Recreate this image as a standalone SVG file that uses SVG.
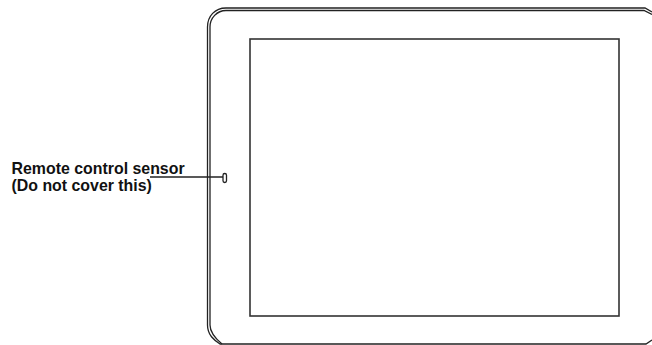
<svg xmlns="http://www.w3.org/2000/svg" width="652" height="345" viewBox="0 0 652 345">
<style>
.l{fill:none;stroke:#222;stroke-width:1.300}
.s{fill:none;stroke:#333;stroke-width:1.600}
.t{font-family:"Liberation Sans",Arial,sans-serif;font-size:15.900px;font-weight:bold;fill:#111}
</style>
<rect width="652" height="345" fill="#fff"/>
<g id="tablet">
<path class="l" d="M652 12L645 8H226C215 8 207.500 16 207.500 27V325C207.500 335 214 340 220 344H646L652 340"/>
<path class="l" d="M652 14.500L644 10.500H226C217 10.500 210 18 210 27V325C210 333 216 339 222 344"/>
<rect class="s" x="250" y="39" width="369" height="277"/>
<rect id="sensor-shape" class="l" x="223" y="173.500" width="3.500" height="9" rx="1.700"/>
</g>
<g id="connectors">
<line class="l" x1="150" y1="177" x2="223" y2="177"/>
</g>
<g id="label">
<text class="t" x="11.500" y="174">Remote control sensor</text>
<text class="t" x="11.500" y="191">(Do not cover this)</text>
</g>
</svg>
